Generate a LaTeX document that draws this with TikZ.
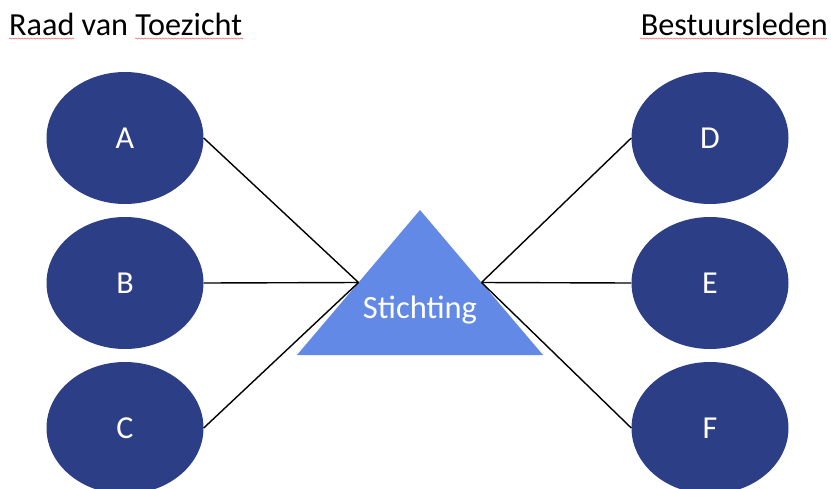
\documentclass[tikz,border=0pt]{standalone}
\usepackage{fontspec}
\setmainfont{Carlito}
\usetikzlibrary{shapes.geometric,decorations.pathmorphing,calc}
\definecolor{navy}{RGB}{44,62,134}
\definecolor{tri}{RGB}{99,137,230}
\definecolor{spell}{RGB}{240,110,110}
\tikzset{
  member/.style={ellipse,fill=navy,draw=none,minimum width=157pt,minimum height=132pt,inner sep=0pt,text=white,font=\fontsize{32}{36}\selectfont},
  header/.style={anchor=base west,inner sep=0pt,font=\fontsize{32.2}{36}\selectfont},
  link/.style={draw=black,line width=1.4pt},
  squiggle/.style={draw=spell,line width=0.6pt,decorate,decoration={snake,segment length=3pt,amplitude=0.6pt}}
}
\begin{document}
\begin{tikzpicture}[x=1pt,y=-1pt]
\useasboundingbox (0,0) rectangle (831,488);
% headers
\node[header] (rvt) at (9,35) {Raad van Toezicht};
\node[header,anchor=base east] (bst) at (828,35) {Bestuursleden};
\draw[squiggle] (9,38.5) -- (74,38.5);
\draw[squiggle] (135,38.5) -- (243,38.5);
\draw[squiggle] (640,38.5) -- (827,38.5);
% triangle
\coordinate (top) at (420,210);
\coordinate (bl) at (297,355);
\coordinate (br) at (543,355);
\fill[tri] (top) -- (bl) -- (br) -- cycle;
\coordinate (L) at ($(top)!0.5!(bl)$);
\coordinate (R) at ($(top)!0.5!(br)$);
\node[anchor=base,inner sep=0pt,text=white,font=\fontsize{32.5}{36}\selectfont] (st) at (420,318) {Stichting};
% members
\node[member] (A) at (125,138) {A};
\node[member] (B) at (125,283) {B};
\node[member] (C) at (125,428) {C};
\node[member] (D) at (710,138) {D};
\node[member] (E) at (710,283) {E};
\node[member] (F) at (710,428) {F};
% links
\draw[link] (A.east) -- (L);
\draw[link] (B.east) -- (L);
\draw[link] (C.east) -- (L);
\draw[link] (D.west) -- (R);
\draw[link] (E.west) -- (R);
\draw[link] (F.west) -- (R);
\end{tikzpicture}
\end{document}
